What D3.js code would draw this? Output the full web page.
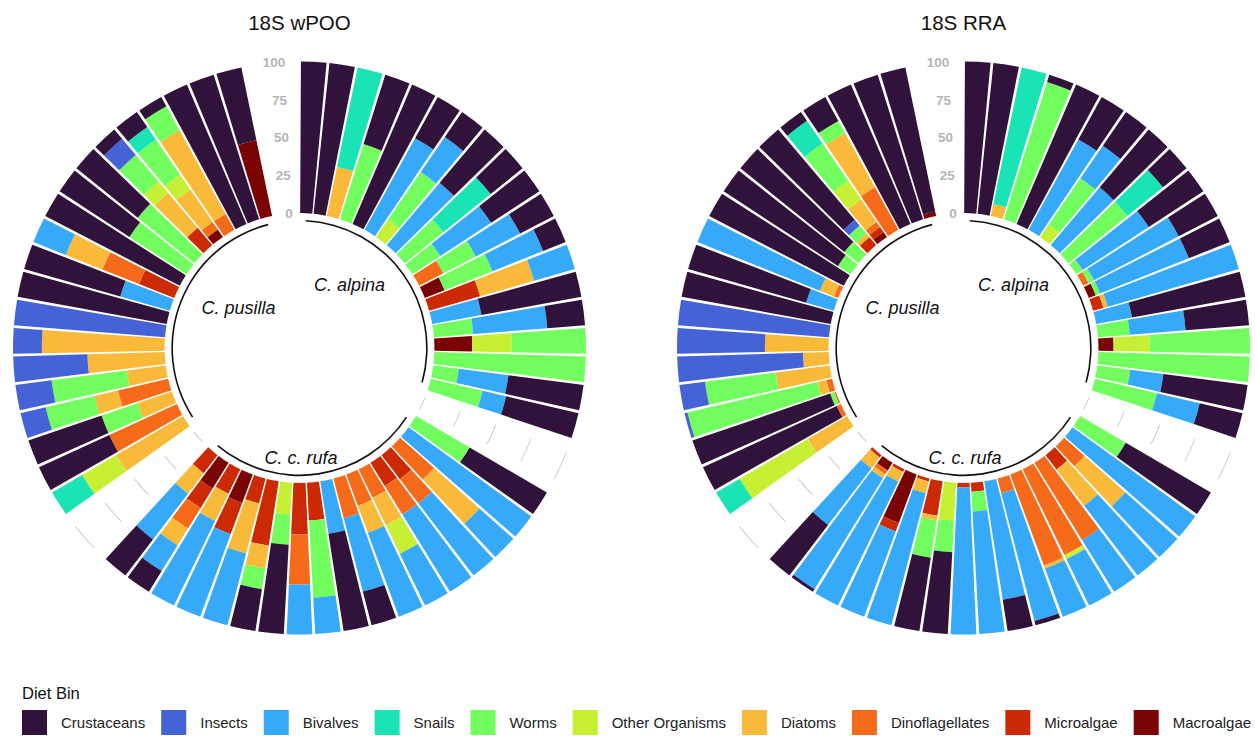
<!DOCTYPE html>
<html>
<head>
<meta charset="utf-8">
<script src="https://cdn.jsdelivr.net/npm/d3@7"></script>
<style>
  body { margin: 0; background: #fff; }
  svg { font-family: "Liberation Sans", Arial, sans-serif; }
</style>
</head>
<body>
<div id="container"></div>
<script>
/* DATA ##################################################### */
const dietBins = ["Crustaceans", "Insects", "Bivalves", "Snails", "Worms",
  "Other Organisms", "Diatoms", "Dinoflagellates", "Microalgae", "Macroalgae"];
const dietColors = ["#30123B", "#4662D7", "#36AAF9", "#1AE4B6", "#72FE5E",
  "#C7EF34", "#FABA39", "#F66B19", "#CB2A04", "#7A0403"];
const groupNames = ["C. alpina", "C. c. rufa", "C. pusilla"];
const emptyBars = 2;
const yTicks = [0, 25, 50, 75, 100];

// one row per bird, values in the dietBins order (percent)
const wpooAlpina = [
  [100,0,0,0,0,0,0,0,0,0], [100,0,0,0,0,0,0,0,0,0], [0,0,0,67,0,0,33,0,0,0],
  [48,0,0,0,52,0,0,0,0,0], [100,0,0,0,0,0,0,0,0,0], [31,0,69,0,0,0,0,0,0,0],
  [20,0,28,0,38,14,0,0,0,0], [46,0,54,0,0,0,0,0,0,0], [27,0,0,40,33,0,0,0,0,0],
  [38,0,40,0,22,0,0,0,0,0], [25,0,33,0,24,0,0,18,0,0], [16,0,36,0,34,0,0,0,0,14],
  [0,0,28,0,0,0,37,0,35,0], [67,0,33,0,0,0,0,0,0,0], [25,0,49,0,26,0,0,0,0,0],
  [0,0,0,0,49,26,0,0,0,25], [0,0,0,0,100,0,0,0,0,0], [50,0,33,0,17,0,0,0,0,0],
  [49,0,16,0,35,0,0,0,0,0]
];
const wpooRufa = [
  [59,0,0,0,41,0,0,0,0,0], [0,0,100,0,0,0,0,0,0,0], [0,0,30,0,0,0,40,30,0,0],
  [0,0,60,0,0,0,0,20,20,0], [0,0,60,0,0,0,0,22,18,0], [0,0,38,0,0,21,20,21,0,0],
  [0,0,59,0,0,0,19,22,0,0], [23,0,50,0,0,0,0,27,0,0], [65,0,35,0,0,0,0,0,0,0],
  [0,0,24,0,51,0,0,0,25,0], [0,0,33,0,0,0,0,33,34,0], [59,0,0,0,20,21,0,0,0,0],
  [28,0,0,0,14,0,15,0,43,0], [0,0,49,0,0,0,34,0,17,0], [0,0,58,0,0,0,0,0,22,20],
  [0,0,62,0,0,0,20,0,18,0], [16,0,20,0,0,0,13,16,15,20], [30,0,38,0,0,0,17,0,15,0]
];
const wpooPusilla = [
  [0,0,0,23,0,26,51,0,0,0], [51,0,0,0,0,0,0,49,0,0], [51,0,0,0,25,0,24,0,0,0],
  [0,17,0,0,33,0,16,34,0,0], [0,24,0,0,50,0,26,0,0,0], [0,49,0,0,0,0,51,0,0,0],
  [0,19,0,0,0,0,81,0,0,0], [0,100,0,0,0,0,0,0,0,0], [100,0,0,0,0,0,0,0,0,0],
  [66,0,34,0,0,0,0,0,0,0], [0,0,23,0,0,0,26,26,25,0], [100,0,0,0,0,0,0,0,0,0],
  [55,0,0,0,45,0,0,0,0,0], [52,0,0,0,48,0,0,0,0,0], [8,14,0,0,23,10,30,0,15,0],
  [12,0,0,10,28,12,26,6,0,6], [7,0,0,0,18,0,63,12,0,0], [100,0,0,0,0,0,0,0,0,0],
  [100,0,0,0,0,0,0,0,0,0], [49,0,0,0,0,0,0,0,0,51]
];
const rraAlpina = [
  [100,0,0,0,0,0,0,0,0,0], [100,0,0,0,0,0,0,0,0,0], [0,0,0,92,0,0,8,0,0,0],
  [5,0,0,0,95,0,0,0,0,0], [100,0,0,0,0,0,0,0,0,0], [32,0,68,0,0,0,0,0,0,0],
  [27,0,26,0,37,10,0,0,0,0], [50,0,50,0,0,0,0,0,0,0], [20,0,0,30,50,0,0,0,0,0],
  [43,0,52,0,5,0,0,0,0,0], [29,0,63,0,4,0,0,4,0,0], [29,0,63,0,3,0,0,0,0,5],
  [0,0,90,0,0,0,3,0,7,0], [76,0,24,0,0,0,0,0,0,0], [42,0,37,0,21,0,0,0,0,0],
  [0,0,0,0,66,24,0,0,0,10], [0,0,0,0,100,0,0,0,0,0], [56,0,22,0,22,0,0,0,0,0],
  [29,0,29,0,42,0,0,0,0,0]
];
const rraRufa = [
  [65,0,0,0,35,0,0,0,0,0], [0,0,100,0,0,0,0,0,0,0], [0,0,46,0,0,0,36,18,0,0],
  [0,0,58,0,0,0,30,0,12,0], [0,0,40,0,0,0,0,60,0,0], [0,0,34,0,0,3,0,63,0,0],
  [0,0,34,0,0,0,2,64,0,0], [3,0,87,0,0,0,0,10,0,0], [21,0,79,0,0,0,0,0,0,0],
  [0,0,81,0,13,0,0,0,6,0], [0,0,97,0,0,0,0,0,3,0], [54,0,0,0,21,25,0,0,0,0],
  [49,0,0,0,25,0,3,0,23,0], [0,0,90,0,0,0,8,0,2,0], [0,0,60,0,0,0,0,0,6,34],
  [0,0,91,0,0,0,7,0,2,0], [2,0,86,0,0,0,3,3,0,6], [42,0,47,0,0,0,9,0,2,0]
];
const rraPusilla = [
  [0,0,0,18,0,52,30,0,0,0], [97,0,0,0,0,0,0,3,0,0], [96,0,0,0,3,0,0,1,0,0],
  [0,2,0,0,88,0,6,4,0,0], [0,17,0,0,47,0,36,0,0,0], [0,83,0,0,0,0,17,0,0,0],
  [0,58,0,0,0,0,42,0,0,0], [0,100,0,0,0,0,0,0,0,0], [100,0,0,0,0,0,0,0,0,0],
  [81,0,19,0,0,0,0,0,0,0], [0,0,87,0,0,0,10,3,0,0], [100,0,0,0,0,0,0,0,0,0],
  [90,0,0,0,10,0,0,0,0,0], [88,0,0,0,12,0,0,0,0,0], [78,5,0,0,7,0,3,0,7,0],
  [7,0,0,18,30,15,18,4,4,4], [18,0,0,0,9,0,41,32,0,0], [100,0,0,0,0,0,0,0,0,0],
  [100,0,0,0,0,0,0,0,0,0], [97,0,0,0,0,0,0,0,0,3]
];

/* LAYOUT ################################################### */
const width = 1255;
const height = 736;
const cy = 348;
const outerR = 286.5;
const panels = [
  { title: "18S wPOO", cx: 299.5, groups: [wpooAlpina, wpooRufa, wpooPusilla] },
  { title: "18S RRA", cx: 963.5, groups: [rraAlpina, rraRufa, rraPusilla] },
];
// where the species names sit, relative to the circle centre
const labelOffsets = [[50, -63], [1.5, 110], [-61, -40]];

const colorScale = d3.scaleOrdinal().domain(dietBins).range(dietColors);

const svg = d3.select("#container")
  .append("svg")
  .attr("width", width)
  .attr("height", height)
  .style("background-color", "#fff");

function drawPanel(panel) {
  // build slots: each group's birds then a couple of empty bars
  const slots = [];
  panel.groups.forEach((rows, gi) => {
    rows.forEach((row) => {
      const d = { id: slots.length, group: gi, empty: false };
      dietBins.forEach((b, i) => (d[b] = row[i]));
      slots.push(d);
    });
    for (let e = 0; e < emptyBars; e++) {
      const d = { id: slots.length, group: gi, empty: true };
      dietBins.forEach((b) => (d[b] = 0));
      slots.push(d);
    }
  });

  const x = d3.scaleBand()
    .domain(slots.map((d) => d.id))
    .range([0, 2 * Math.PI])
    .paddingInner(0.1)
    .paddingOuter(0.05);
  const y = d3.scaleLinear().domain([-89, 100]).range([0, outerR]);
  const mid = (id) => x(id) + x.bandwidth() / 2;

  const g = svg.append("g").attr("transform", `translate(${panel.cx},${cy})`);

  // stacked bars (first diet bin ends up outermost)
  const stackKeys = dietBins.slice().reverse();
  const series = d3.stack().keys(stackKeys)(slots);
  const arc = d3.arc()
    .innerRadius((d) => y(d[0]))
    .outerRadius((d) => y(d[1]))
    .startAngle((d) => x(d.data.id))
    .endAngle((d) => x(d.data.id) + x.bandwidth());

  g.selectAll(".layer")
    .data(series)
    .join("g")
    .attr("class", "layer")
    .attr("fill", (s) => colorScale(s.key))
    .selectAll("path")
    .data((s) => s.filter((d) => d[1] - d[0] > 0))
    .join("path")
    .attr("d", arc);

  // grey scale lines in the gaps after the first two groups
  const ring = d3.arc();
  [0, 1].forEach((gi) => {
    const empties = slots.filter((d) => d.group === gi && d.empty);
    const a0 = mid(empties[0].id);
    const a1 = mid(empties[empties.length - 1].id);
    yTicks.forEach((t) => {
      g.append("path")
        .attr("d", ring({ innerRadius: y(t) - 0.45, outerRadius: y(t) + 0.45, startAngle: a0, endAngle: a1 }))
        .attr("fill", "#c8c8c8");
    });
  });

  // y tick labels in the last gap
  const lastId = slots[slots.length - 1].id;
  const la = mid(lastId);
  g.selectAll(".ytick")
    .data(yTicks)
    .join("text")
    .attr("class", "ytick")
    .attr("x", (t) => y(t) * Math.sin(la))
    .attr("y", (t) => -y(t) * Math.cos(la))
    .attr("dy", "0.36em")
    .attr("text-anchor", "end")
    .attr("fill", "#b5b5b5")
    .style("font-weight", "bold")
    .style("font-size", "13.5px")
    .text((t) => t);

  // group base lines and names
  groupNames.forEach((name, gi) => {
    const birds = slots.filter((d) => d.group === gi && !d.empty);
    const a0 = mid(birds[0].id);
    const a1 = mid(birds[birds.length - 1].id);
    g.append("path")
      .attr("d", ring({ innerRadius: y(-5) - 0.8, outerRadius: y(-5) + 0.8, startAngle: a0, endAngle: a1 }))
      .attr("fill", "#111");
    g.append("text")
      .attr("x", labelOffsets[gi][0])
      .attr("y", labelOffsets[gi][1])
      .attr("dy", "0.35em")
      .attr("text-anchor", "middle")
      .style("font-style", "italic")
      .style("font-size", "18px")
      .attr("fill", "#111")
      .text(name);
  });

  // title
  svg.append("text")
    .attr("x", panel.cx)
    .attr("y", 30)
    .attr("text-anchor", "middle")
    .style("font-size", "20.5px")
    .attr("fill", "#111")
    .text(panel.title);
}

panels.forEach(drawPanel);

/* LEGEND ################################################### */
svg.append("text")
  .attr("x", 22)
  .attr("y", 699)
  .style("font-size", "16.5px")
  .attr("fill", "#111")
  .text("Diet Bin");

let lx = 22;
dietBins.forEach((name, i) => {
  const item = svg.append("g").attr("transform", `translate(${lx},710)`);
  item.append("rect")
    .attr("width", 25)
    .attr("height", 25)
    .attr("fill", dietColors[i]);
  const t = item.append("text")
    .attr("x", 25 + 14)
    .attr("y", 12.5)
    .attr("dy", "0.35em")
    .style("font-size", "15px")
    .attr("fill", "#222")
    .text(name);
  lx += 25 + 14 + t.node().getComputedTextLength() + 16;
});
</script>
</body>
</html>
